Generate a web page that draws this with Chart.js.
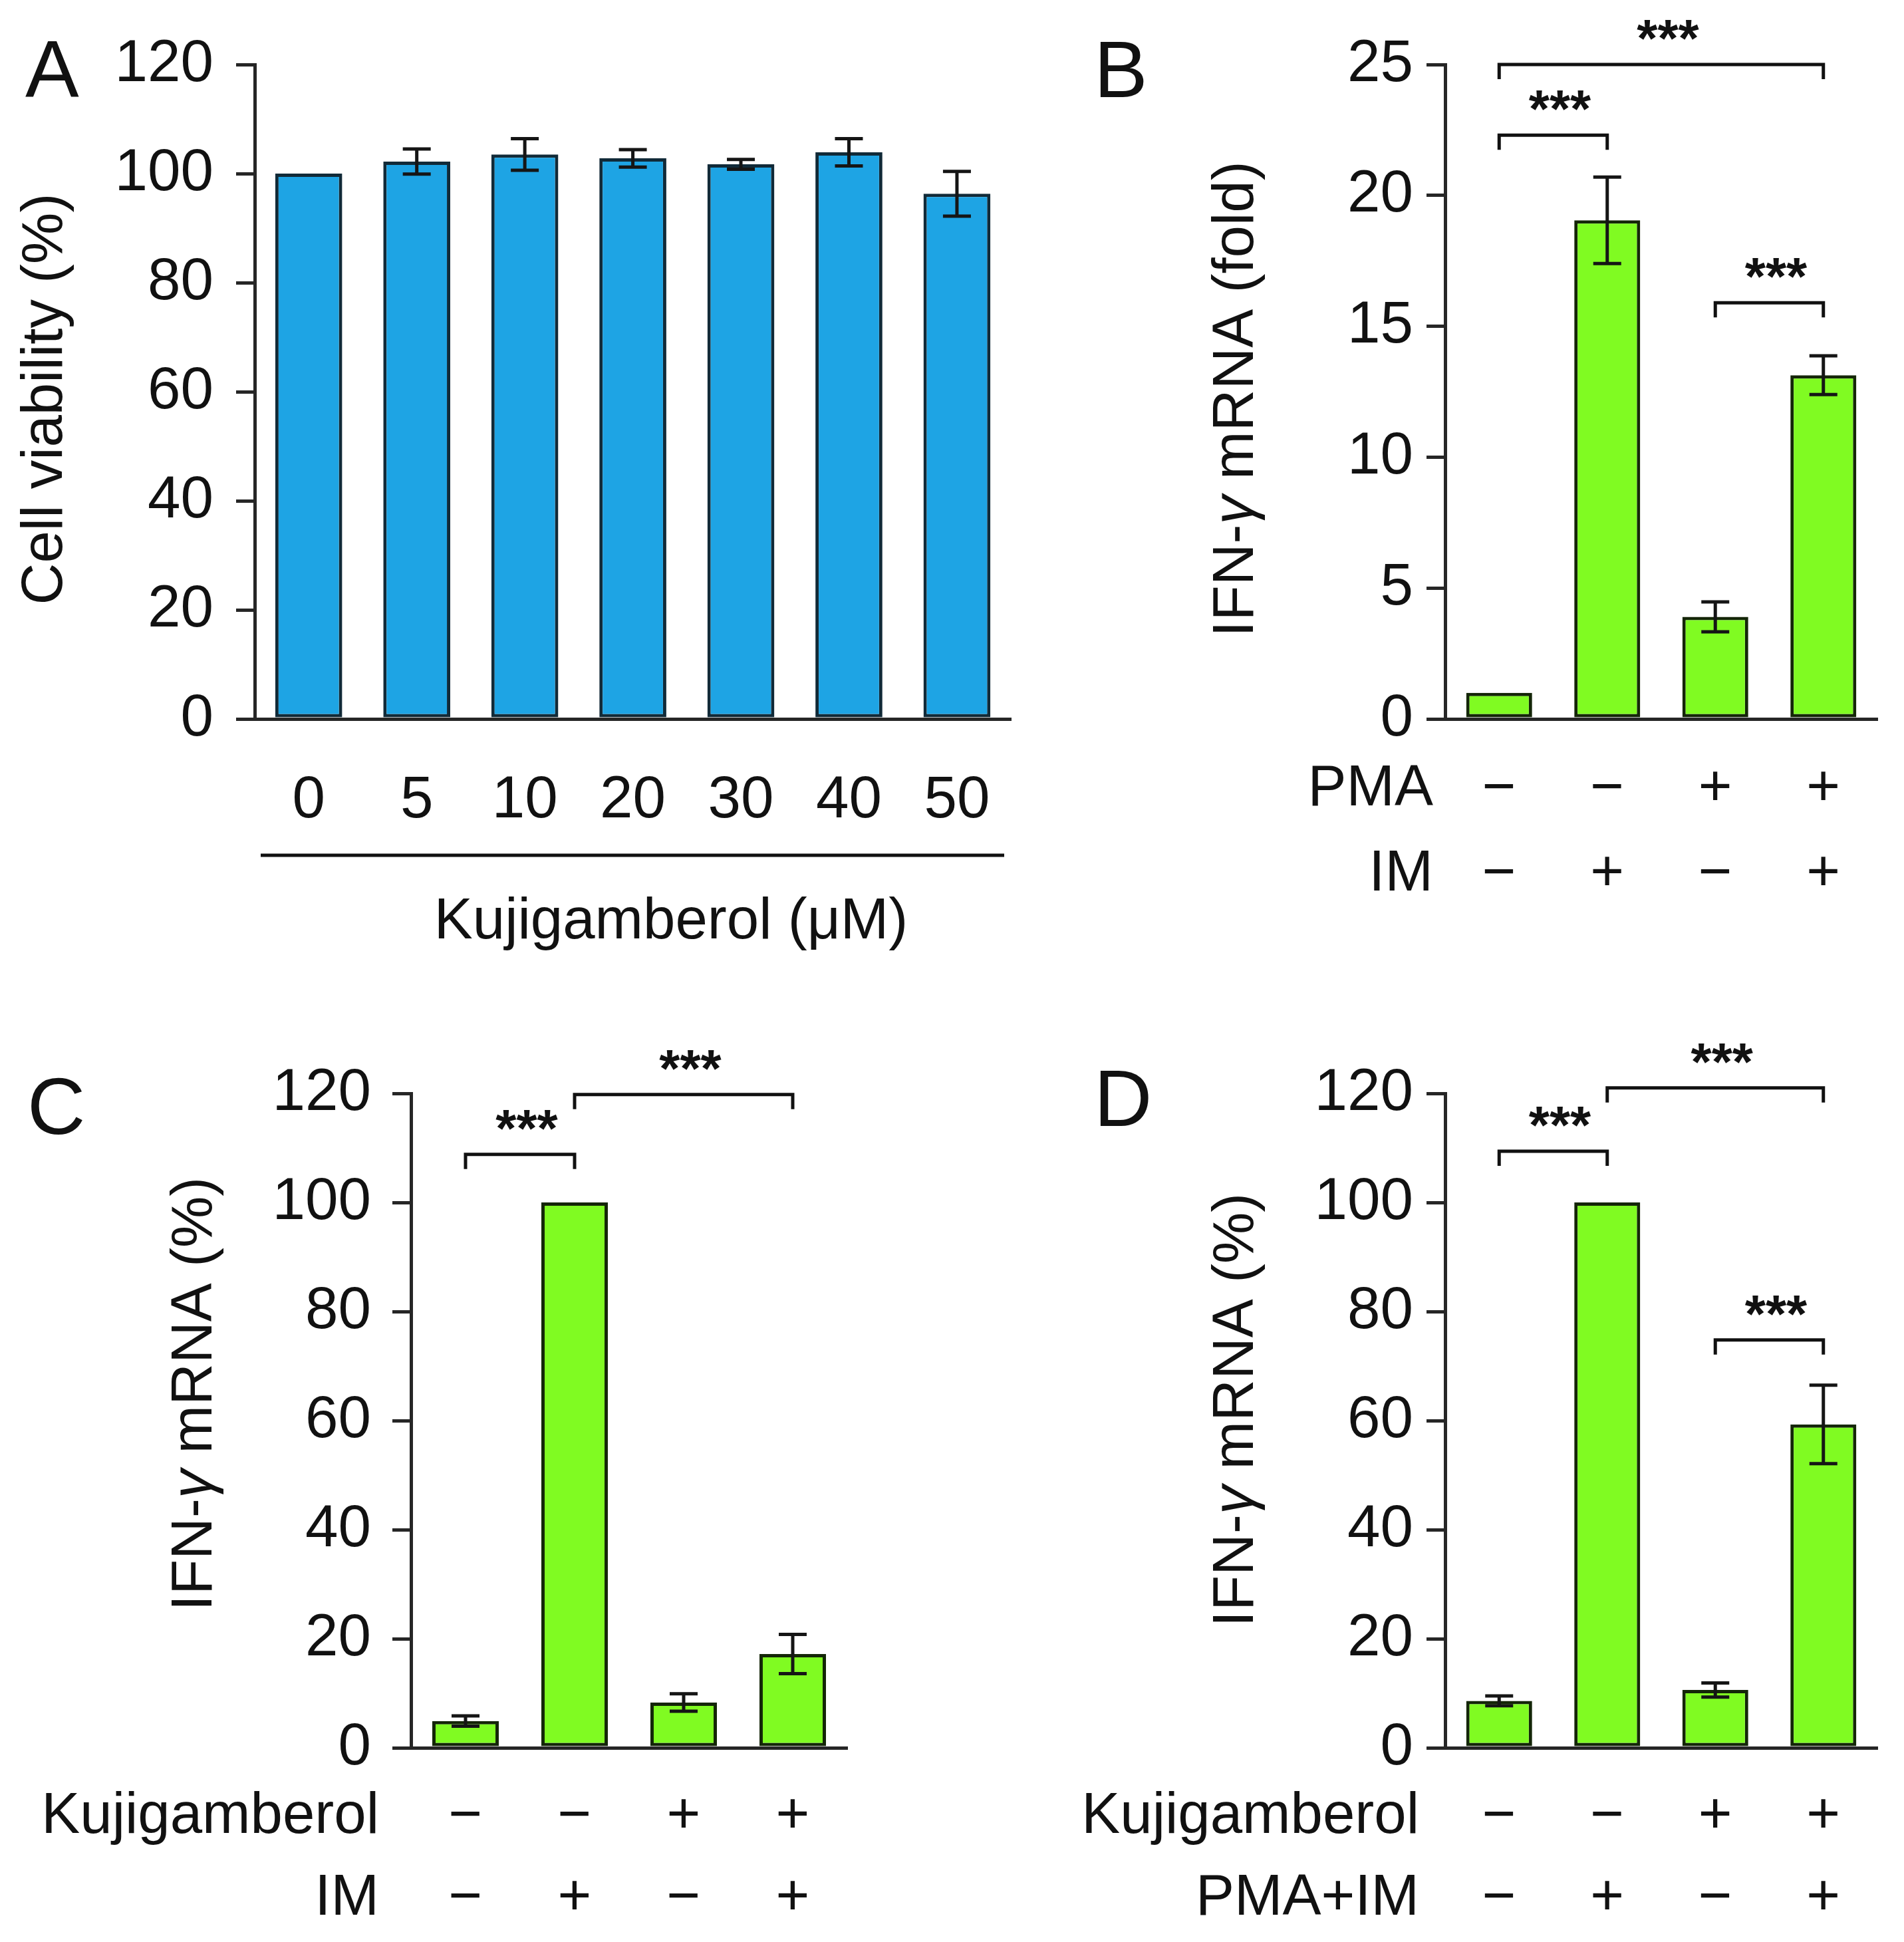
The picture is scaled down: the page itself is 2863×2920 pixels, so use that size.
<!DOCTYPE html>
<html>
<head>
<meta charset="utf-8">
<script src="https://cdn.jsdelivr.net/npm/chart.js@4.4.1/dist/chart.umd.min.js"></script>
<style>
    html, body { margin: 0; padding: 0; background: #fff; }
    #page { position: relative; width: 2863px; height: 2920px; overflow: hidden; background: #fff; }
    .panel { position: absolute; }
</style>
</head>
<body>
<div id="page">
    <div class="panel" style="left:0px;top:0px;width:1560px;height:1450px"><canvas id="chartA"></canvas></div>
    <div class="panel" style="left:1560px;top:0px;width:1303px;height:1450px"><canvas id="chartB"></canvas></div>
    <div class="panel" style="left:0px;top:1450px;width:1560px;height:1470px"><canvas id="chartC"></canvas></div>
    <div class="panel" style="left:1560px;top:1450px;width:1303px;height:1470px"><canvas id="chartD"></canvas></div>
</div>
<script>
// ---- data ----
const doseLabels = ['0', '5', '10', '20', '30', '40', '50'];
const viability = [100, 102.2, 103.5, 102.8, 101.7, 103.9, 96.3];
const viabilityErr = [0, 2.3, 2.9, 1.6, 0.9, 2.5, 4.1];
const viabilityTicks = [0, 20, 40, 60, 80, 100, 120];

const groupLabels = ['1', '2', '3', '4'];

const foldMRNA = [1.0, 19.05, 3.9, 13.13];
const foldErr = [0, 1.65, 0.57, 0.74];
const foldTicks = [0, 5, 10, 15, 20, 25];
const pmaSigns = ['−', '−', '+', '+'];
const imSigns = ['−', '+', '−', '+'];
const foldBrackets = [[0, 3, 25.0], [0, 1, 22.3], [2, 3, 15.9]];

const imPercent = [4.9, 100, 8.3, 17.2];
const imPercentErr = [0.95, 0, 1.6, 3.6];
const kujiSignsC = ['−', '−', '+', '+'];
const imSignsC = ['−', '+', '−', '+'];
const imBrackets = [[0, 1, 108.8], [1, 3, 119.8]];

const pmaImPercent = [8.6, 100, 10.6, 59.3];
const pmaImPercentErr = [0.9, 0, 1.3, 7.2];
const kujiSignsD = ['−', '−', '+', '+'];
const pmaImSigns = ['−', '+', '−', '+'];
const pmaImBrackets = [[0, 1, 109.4], [1, 3, 121.0], [2, 3, 74.8]];
const percentTicks = [0, 20, 40, 60, 80, 100, 120];

// ---- styling ----
const FONT = '"Liberation Sans", Arial, Helvetica, sans-serif';
const TEXT = '#111';
const AXIS = '#262626';
const BLUE = '#1ea4e4';
const BLUE_EDGE = '#112a38';
const GREEN = '#80fb22';
const GREEN_EDGE = '#142608';
const FS = 87;
const TICK_FS = 89;
const LW = 5;

function font(size, style) {
    return (style ? style + ' ' : '') + size + 'px ' + FONT;
}

function drawTitle(ctx, parts, cx, cy) {
    ctx.save();
    ctx.translate(cx, cy);
    ctx.rotate(-Math.PI / 2);
    let total = 0;
    parts.forEach(p => { ctx.font = p.font; total += ctx.measureText(p.text).width; });
    let x = -total / 2;
    ctx.textBaseline = 'middle';
    ctx.textAlign = 'left';
    ctx.fillStyle = TEXT;
    parts.forEach(p => {
        ctx.font = p.font;
        ctx.fillText(p.text, x, 0);
        x += ctx.measureText(p.text).width;
    });
    ctx.restore();
}

const panelDecor = {
    id: 'panelDecor',
    afterDatasetsDraw(chart, args, opts) {
        const ctx = chart.ctx;
        const xs = chart.scales.x, ys = chart.scales.y;
        const vals = chart.data.datasets[0].data;
        ctx.save();
        ctx.strokeStyle = '#151515';
        ctx.lineWidth = LW;
        (opts.errors || []).forEach((e, i) => {
            if (!e) return;
            const x = xs.getPixelForValue(i);
            const yTop = ys.getPixelForValue(vals[i] + e);
            const yBot = ys.getPixelForValue(vals[i] - e);
            ctx.beginPath();
            ctx.moveTo(x, yTop); ctx.lineTo(x, yBot);
            ctx.moveTo(x - 21, yTop); ctx.lineTo(x + 21, yTop);
            ctx.moveTo(x - 21, yBot); ctx.lineTo(x + 21, yBot);
            ctx.stroke();
        });
        ctx.restore();
    },
    afterDraw(chart, args, opts) {
        const ctx = chart.ctx;
        const xs = chart.scales.x, ys = chart.scales.y;
        ctx.save();
        ctx.fillStyle = TEXT;

        // panel letter
        ctx.font = font(121);
        ctx.textAlign = 'left';
        ctx.textBaseline = 'alphabetic';
        ctx.fillText(opts.letter, opts.letterPos[0], opts.letterPos[1]);

        // y title
        drawTitle(ctx, opts.title, opts.titlePos[0], opts.titlePos[1]);

        // significance brackets
        ctx.strokeStyle = '#111';
        ctx.lineWidth = LW;
        (opts.brackets || []).forEach(b => {
            const x1 = xs.getPixelForValue(b[0]);
            const x2 = xs.getPixelForValue(b[1]);
            const y = ys.getPixelForValue(b[2]);
            ctx.beginPath();
            ctx.moveTo(x1, y + 22); ctx.lineTo(x1, y); ctx.lineTo(x2, y); ctx.lineTo(x2, y + 22);
            ctx.stroke();
            ctx.font = font(80, 'bold');
            ctx.textAlign = 'center';
            ctx.textBaseline = 'alphabetic';
            ctx.fillText('***', (x1 + x2) / 2 + 10, y - 12);
        });

        // treatment rows under the axis
        (opts.rows || []).forEach(r => {
            ctx.font = font(FS);
            ctx.textBaseline = 'alphabetic';
            ctx.textAlign = 'right';
            ctx.fillText(r.name, opts.rowNameRight, r.y + 31);
            ctx.textAlign = 'center';
            r.signs.forEach((s, i) => {
                ctx.fillText(s, xs.getPixelForValue(i), r.y + 31);
            });
        });

        // group line + axis caption (panel A)
        if (opts.caption) {
            const c = opts.caption;
            ctx.beginPath();
            ctx.moveTo(c.lineX1, c.lineY); ctx.lineTo(c.lineX2, c.lineY);
            ctx.stroke();
            ctx.font = font(FS);
            ctx.textAlign = 'center';
            ctx.textBaseline = 'alphabetic';
            ctx.fillText(c.text, c.x, c.y + 31);
        }
        ctx.restore();
    }
};

function makePanel(id, p) {
    return new Chart(document.getElementById(id), {
        type: 'bar',
        data: {
            labels: p.labels,
            datasets: [{
                data: p.values,
                backgroundColor: p.fill,
                borderColor: p.edge,
                borderWidth: LW,
                borderSkipped: false,
                barPercentage: p.barPct,
                categoryPercentage: 1.0
            }]
        },
        options: {
            responsive: true,
            maintainAspectRatio: false,
            animation: false,
            layout: { padding: { top: p.padTop, right: p.padRight, left: 0, bottom: 0 } },
            plugins: {
                legend: { display: false },
                tooltip: { enabled: false },
                panelDecor: p.decor
            },
            scales: {
                x: {
                    offset: true,
                    grid: { display: true, drawOnChartArea: false, drawTicks: false },
                    border: { display: true, color: AXIS, width: LW },
                    ticks: {
                        display: p.showXTicks,
                        font: { family: FONT, size: TICK_FS },
                        color: TEXT,
                        padding: 70,
                        maxRotation: 0,
                        autoSkip: false
                    },
                    afterFit(scale) { scale.height = p.xHeight; }
                },
                y: {
                    min: 0,
                    max: p.ticks[p.ticks.length - 1],
                    afterBuildTicks(scale) { scale.ticks = p.ticks.map(v => ({ value: v })); },
                    grid: { drawOnChartArea: false, drawTicks: true, tickLength: 28, lineWidth: LW, color: AXIS },
                    border: { display: true, color: AXIS, width: LW },
                    ticks: {
                        font: { family: FONT, size: TICK_FS },
                        color: TEXT,
                        padding: p.tickPad
                    },
                    afterFit(scale) { scale.width = p.yWidth; }
                }
            }
        },
        plugins: [panelDecor]
    });
}

const titleParts = (rest) => [
    { text: 'IFN-', font: font(FS) },
    { text: 'γ', font: font(FS, 'italic') },
    { text: rest, font: font(FS) }
];

makePanel('chartA', {
    labels: doseLabels, values: viability, fill: BLUE, edge: BLUE_EDGE,
    ticks: viabilityTicks, showXTicks: true, barPct: 0.62,
    padTop: 97, padRight: 22, xHeight: 369, yWidth: 383, tickPad: 34,
    decor: {
        errors: viabilityErr,
        letter: 'A', letterPos: [38, 145],
        title: [{ text: 'Cell viability (%)', font: font(FS) }], titlePos: [69, 600],
        caption: { text: 'Kujigamberol (μM)', x: 1009, y: 1380, lineX1: 392, lineX2: 1510, lineY: 1286 }
    }
});

makePanel('chartB', {
    labels: groupLabels, values: foldMRNA, fill: GREEN, edge: GREEN_EDGE,
    ticks: foldTicks, showXTicks: false, barPct: 0.61,
    padTop: 97, padRight: 40, xHeight: 369, yWidth: 613, tickPad: 20,
    decor: {
        errors: foldErr, brackets: foldBrackets,
        letter: 'B', letterPos: [85, 146],
        title: titleParts(' mRNA (fold)'), titlePos: [300, 600],
        rowNameRight: 595,
        rows: [{ name: 'PMA', signs: pmaSigns, y: 1180 }, { name: 'IM', signs: imSigns, y: 1308 }]
    }
});

makePanel('chartC', {
    labels: groupLabels, values: imPercent, fill: GREEN, edge: GREEN_EDGE,
    ticks: percentTicks, showXTicks: false, barPct: 0.61,
    padTop: 194, padRight: 286, xHeight: 292, yWidth: 618, tickPad: 32,
    decor: {
        errors: imPercentErr, brackets: imBrackets,
        letter: 'C', letterPos: [41, 255],
        title: titleParts(' mRNA (%)'), titlePos: [294, 646],
        rowNameRight: 570,
        rows: [{ name: 'Kujigamberol', signs: kujiSignsC, y: 1275 }, { name: 'IM', signs: imSignsC, y: 1398 }]
    }
});

makePanel('chartD', {
    labels: groupLabels, values: pmaImPercent, fill: GREEN, edge: GREEN_EDGE,
    ticks: percentTicks, showXTicks: false, barPct: 0.61,
    padTop: 194, padRight: 40, xHeight: 292, yWidth: 613, tickPad: 20,
    decor: {
        errors: pmaImPercentErr, brackets: pmaImBrackets,
        letter: 'D', letterPos: [85, 243],
        title: titleParts(' mRNA (%)'), titlePos: [300, 670],
        rowNameRight: 574,
        rows: [{ name: 'Kujigamberol', signs: kujiSignsD, y: 1275 }, { name: 'PMA+IM', signs: pmaImSigns, y: 1398 }]
    }
});
</script>
</body>
</html>
